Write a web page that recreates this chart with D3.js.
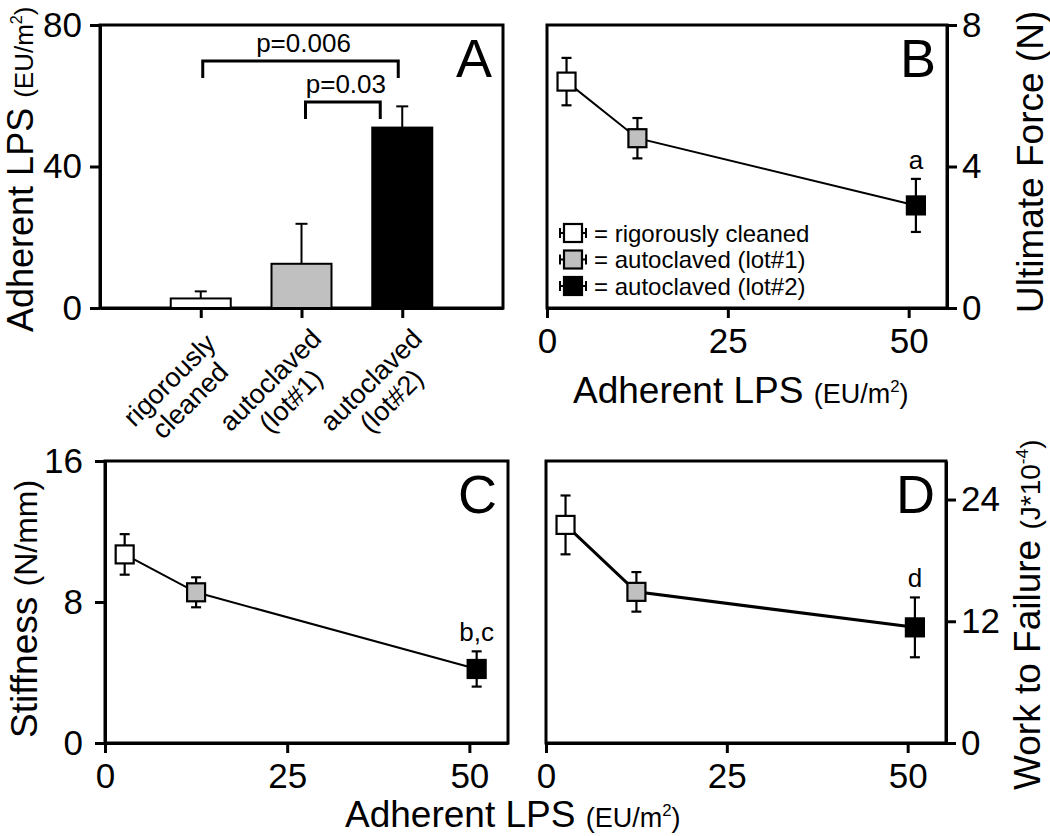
<!DOCTYPE html>
<html><head><meta charset="utf-8">
<script src="https://cdn.jsdelivr.net/npm/d3@7"></script>
<style>
body{margin:0;background:#fff}
svg{display:block}
text{font-family:"Liberation Sans",Arial,Helvetica,sans-serif;fill:#000}
</style>
</head><body>
<svg id="chart" width="1050" height="836"></svg>
<script>
// ---------------- data ----------------
const groups = ["rigorously cleaned", "autoclaved (lot#1)", "autoclaved (lot#2)"];
const groupLines = [["rigorously", "cleaned"], ["autoclaved", "(lot#1)"], ["autoclaved", "(lot#2)"]];
const groupFill = ["#ffffff", "#c0c0c0", "#000000"];

const lpsMean = [2.7, 12.5, 51.0];     // Adherent LPS (EU/m2)
const lpsErr  = [2.0, 11.3, 6.0];

const forceMean = [6.4, 4.8, 2.9];     // Ultimate Force (N)
const forceErr  = [0.67, 0.57, 0.75];

const stiffMean = [10.7, 8.55, 4.2];   // Stiffness (N/mm)
const stiffErr  = [1.15, 0.85, 1.0];

const workMean = [21.5, 14.9, 11.4];   // Work to Failure (J*10^-4)
const workErr  = [2.9, 1.95, 2.95];

const xTicks     = [0, 25, 50];
const lpsTicks   = [0, 40, 80];
const forceTicks = [0, 4, 8];
const stiffTicks = [0, 8, 16];
const workTicks  = [0, 12, 24];

const comparisons = [
  {from: 0, to: 2, level: 69.8, label: "p=0.006"},
  {from: 1, to: 2, level: 58.2, label: "p=0.03"}
];
const sigLabels = ["a", "b,c", "d"];

// ---------------- drawing ----------------
const svg = d3.select("#chart");
const TICKFONT = 35;

function styleAxis(g, fs) {
  g.attr("font-family", null).attr("font-size", null);
  g.select(".domain").attr("stroke", "#000").attr("stroke-width", 3);
  g.selectAll(".tick line").attr("stroke", "#000").attr("stroke-width", 3);
  g.selectAll(".tick text").attr("font-size", fs);
}

function box(x0, x1, y0, y1) {
  svg.append("rect").attr("x", x0).attr("y", y0)
    .attr("width", x1 - x0).attr("height", y1 - y0)
    .attr("fill", "none").attr("stroke", "#000").attr("stroke-width", 3);
}

function panelLetter(txt, x1, y0) {
  svg.append("text").attr("x", x1 - 11).attr("y", y0 + 52)
    .attr("text-anchor", "end").attr("font-size", 54).text(txt);
}

// label with main part + smaller unit part (optional superscript)
function unitLabel(sel, main, unitPre, sup, unitPost, mainFs, unitFs) {
  sel.append("tspan").attr("font-size", mainFs).text(main);
  sel.append("tspan").attr("font-size", unitFs).text(unitPre);
  if (sup) {
    sel.append("tspan").attr("font-size", unitFs * 0.62).attr("dy", -unitFs * 0.42).text(sup);
    sel.append("tspan").attr("font-size", unitFs).attr("dy", unitFs * 0.42).text(unitPost);
  } else if (unitPost) {
    sel.append("tspan").attr("font-size", unitFs).text(unitPost);
  }
}

// ---------- Panel A ----------
(function () {
  const x0 = 100, x1 = 503, y0 = 25, y1 = 308;
  const x = d3.scalePoint().domain(groups).range([x0, x1]).padding(1);
  const y = d3.scaleLinear().domain([0, 80]).range([y1, y0]);
  const bw = 60;

  box(x0, x1, y0, y1);

  // error bars (upper only)
  const eb = svg.append("g").attr("stroke", "#000").attr("stroke-width", 2);
  groups.forEach((gname, i) => {
    const cx = x(gname);
    eb.append("line").attr("x1", cx).attr("x2", cx)
      .attr("y1", y(lpsMean[i])).attr("y2", y(lpsMean[i] + lpsErr[i]));
    eb.append("line").attr("x1", cx - 6).attr("x2", cx + 6)
      .attr("y1", y(lpsMean[i] + lpsErr[i])).attr("y2", y(lpsMean[i] + lpsErr[i]));
  });

  // bars
  svg.append("g").selectAll("rect").data(groups).join("rect")
    .attr("x", d => x(d) - bw / 2).attr("width", bw)
    .attr("y", (d, i) => y(lpsMean[i])).attr("height", (d, i) => y(0) - y(lpsMean[i]))
    .attr("fill", (d, i) => groupFill[i]).attr("stroke", "#000").attr("stroke-width", 2);

  // axes
  svg.append("g").attr("transform", `translate(${x0},0)`)
    .call(d3.axisLeft(y).tickValues(lpsTicks).tickSize(10).tickSizeOuter(0).tickPadding(8))
    .call(g => styleAxis(g, TICKFONT));
  svg.append("g").attr("transform", `translate(0,${y1})`)
    .call(d3.axisBottom(x).tickSize(10).tickSizeOuter(0).tickFormat(""))
    .call(g => styleAxis(g, TICKFONT));

  // rotated category labels
  groups.forEach((gname, i) => {
    const t = svg.append("g").attr("transform", `translate(${x(gname)},${y1 + 10}) rotate(-45)`);
    groupLines[i].forEach((ln, j) => {
      t.append("text").attr("x", -66).attr("y", 31 + j * 29)
        .attr("text-anchor", "middle").attr("font-size", 27).text(ln);
    });
  });

  // comparison brackets
  const offs = [[2, -4], [4, -22]];
  comparisons.forEach((c, k) => {
    const xa = x(groups[c.from]) + offs[k][0];
    const xb = x(groups[c.to]) + offs[k][1];
    const yl = y(c.level);
    svg.append("path")
      .attr("d", `M${xa},${yl + 17}V${yl}H${xb}V${yl + 17}`)
      .attr("fill", "none").attr("stroke", "#000").attr("stroke-width", 3);
    svg.append("text").attr("x", (xa + xb) / 2 + 3).attr("y", yl - 9)
      .attr("text-anchor", "middle").attr("font-size", 26).text(c.label);
  });

  panelLetter("A", x1, y0);

  const yl = svg.append("text").attr("transform", "translate(33,332) rotate(-90)").attr("text-anchor", "start");
  unitLabel(yl, "Adherent LPS ", "(EU/m", "2", ")", 36, 26);
})();

// ---------- Panels B, C, D ----------
function linePanel(o) {
  const x = d3.scaleLinear().domain([0, 55.3]).range([o.x0, o.x1]);
  const y = d3.scaleLinear().domain(o.yDomain).range([o.y1, o.y0]);

  box(o.x0, o.x1, o.y0, o.y1);

  const idx = d3.range(lpsMean.length);
  svg.append("path").datum(idx)
    .attr("d", d3.line().x(i => x(lpsMean[i])).y(i => y(o.mean[i])))
    .attr("fill", "none").attr("stroke", "#000").attr("stroke-width", o.lineW);

  const eb = svg.append("g").attr("stroke", "#000").attr("stroke-width", 2.2);
  idx.forEach(i => {
    const cx = x(lpsMean[i]);
    const yt = y(o.mean[i] + o.err[i]), yb = y(o.mean[i] - o.err[i]);
    eb.append("line").attr("x1", cx).attr("x2", cx).attr("y1", yt).attr("y2", yb);
    eb.append("line").attr("x1", cx - 5).attr("x2", cx + 5).attr("y1", yt).attr("y2", yt);
    eb.append("line").attr("x1", cx - 5).attr("x2", cx + 5).attr("y1", yb).attr("y2", yb);
  });

  const ms = 18;
  svg.append("g").selectAll("rect").data(idx).join("rect")
    .attr("x", i => x(lpsMean[i]) - ms / 2).attr("y", i => y(o.mean[i]) - ms / 2)
    .attr("width", ms).attr("height", ms)
    .attr("fill", i => groupFill[i]).attr("stroke", "#000").attr("stroke-width", 2.2);

  // significance label on last group
  svg.append("text").attr("x", x(lpsMean[2])).attr("y", y(o.mean[2] + o.err[2]) - 10)
    .attr("text-anchor", "middle").attr("font-size", 26).text(o.sig);

  // axes
  svg.append("g").attr("transform", `translate(0,${o.y1})`)
    .call(d3.axisBottom(x).tickValues(xTicks).tickSize(10).tickSizeOuter(0).tickPadding(10))
    .call(g => styleAxis(g, TICKFONT));
  if (o.side === "right") {
    svg.append("g").attr("transform", `translate(${o.x1},0)`)
      .call(d3.axisRight(y).tickValues(o.yTicks).tickSize(10).tickSizeOuter(0).tickPadding(5))
      .call(g => styleAxis(g, TICKFONT));
  } else {
    svg.append("g").attr("transform", `translate(${o.x0},0)`)
      .call(d3.axisLeft(y).tickValues(o.yTicks).tickSize(10).tickSizeOuter(0).tickPadding(12))
      .call(g => styleAxis(g, TICKFONT));
  }

  panelLetter(o.letter, o.x1, o.y0);
  return {x, y};
}

// B
linePanel({x0: 547, x1: 947, y0: 25, y1: 308, yDomain: [0, 8], yTicks: forceTicks,
  mean: forceMean, err: forceErr, side: "right", letter: "B", lineW: 2, sig: sigLabels[0]});
// legend in B
groups.forEach((gname, i) => {
  const ly = 233 + i * 26.5, lx = 573;
  const lg = svg.append("g").attr("stroke", "#000").attr("stroke-width", 2);
  lg.append("line").attr("x1", lx - 13).attr("x2", lx + 13).attr("y1", ly).attr("y2", ly);
  lg.append("line").attr("x1", lx - 13).attr("x2", lx - 13).attr("y1", ly - 5).attr("y2", ly + 5);
  lg.append("line").attr("x1", lx + 13).attr("x2", lx + 13).attr("y1", ly - 5).attr("y2", ly + 5);
  lg.append("rect").attr("x", lx - 9).attr("y", ly - 9).attr("width", 18).attr("height", 18)
    .attr("fill", groupFill[i]).attr("stroke-width", 2.2);
  svg.append("text").attr("x", lx + 21).attr("y", ly + 8.5).attr("font-size", 24).text("= " + gname);
});
{
  const t = svg.append("text").attr("x", 573).attr("y", 403);
  unitLabel(t, "Adherent LPS ", "(EU/m", "2", ")", 37, 27);
  svg.append("text").attr("transform", "translate(1043,313) rotate(-90)").attr("font-size", 37)
    .text("Ultimate Force (N)");
}

// C
linePanel({x0: 105, x1: 508, y0: 461, y1: 743, yDomain: [0, 16], yTicks: stiffTicks,
  mean: stiffMean, err: stiffErr, side: "left", letter: "C", lineW: 2, sig: sigLabels[1]});
{
  const t = svg.append("text").attr("transform", "translate(37,738) rotate(-90)");
  unitLabel(t, "Stiffness ", "(N/mm)", null, null, 37, 32);
}

// D
linePanel({x0: 546, x1: 946, y0: 461, y1: 743, yDomain: [0, 27.8], yTicks: workTicks,
  mean: workMean, err: workErr, side: "right", letter: "D", lineW: 3, sig: sigLabels[2]});
{
  const t = svg.append("text").attr("transform", "translate(1040,790) rotate(-90)");
  unitLabel(t, "Work to Failure ", "(J*10", "-4", ")", 37, 28);
  const b = svg.append("text").attr("x", 345).attr("y", 827);
  unitLabel(b, "Adherent LPS ", "(EU/m", "2", ")", 37, 27);
}
</script>
</body></html>
